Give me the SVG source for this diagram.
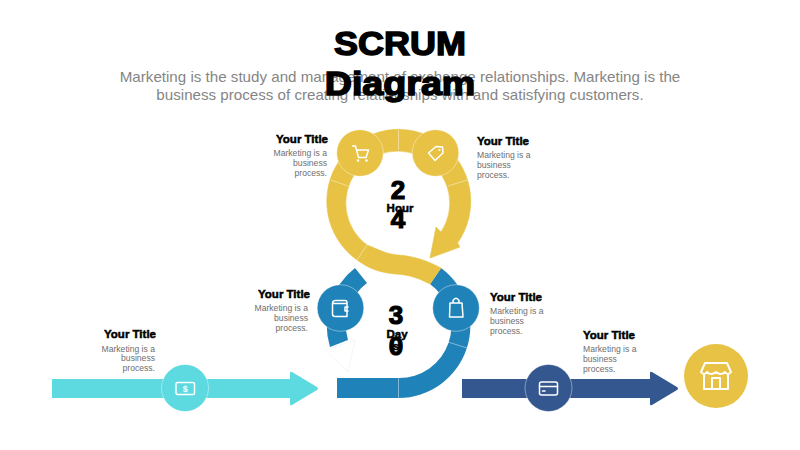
<svg xmlns="http://www.w3.org/2000/svg" width="800" height="450" viewBox="0 0 800 450">
<style>
text{font-family:"Liberation Sans",Arial,sans-serif}
.h{font-size:33px;font-weight:700;fill:#000;stroke:#000;stroke-width:1.5px;text-anchor:middle}
.sub{font-size:15.15px;fill:#858585;text-anchor:middle}
.t{font-size:11.5px;font-weight:700;fill:#000;stroke:#000;stroke-width:.5px}
.b{font-size:8.6px;fill:#6e6e6e}
.e{text-anchor:end}
.n{font-size:26px;font-weight:700;fill:#000;stroke:#000;stroke-width:1.2px;text-anchor:middle}
.u{font-size:11.5px;font-weight:700;fill:#000;stroke:#000;stroke-width:.5px;text-anchor:middle}
.sep{stroke:#fff;stroke-opacity:.55;stroke-width:.8;fill:none}
.c{stroke:#fff;stroke-opacity:.5;stroke-width:.8}
.i{fill:none;stroke:#fff;stroke-width:1.5;stroke-linejoin:round;stroke-linecap:round}
.y{fill:#E8C244}.bl{fill:#1F82B8}
</style>
<g id="heading">
<text class="sub" x="400" y="82">Marketing is the study and management of exchange relationships. Marketing is the</text>
<text class="sub" x="400" y="100">business process of creating relationships with and satisfying customers.</text>
<text class="h" transform="translate(400,55) scale(1.09,1)">SCRUM</text>
<text class="h" transform="translate(400,94.500) scale(1.14,1)">Diagram</text>
</g>
<g id="connectors">
<path class="bl" d="M355,268A72.500,72.500 0 0 0 330,347L348,340A52.500,52.500 0 0 1 367,283Z"/>
<path d="M325,350L355,340L348,372Z" fill="#fff" stroke="#f3f6f7" stroke-width="1" stroke-linejoin="round"/>
<path class="bl" d="M441,268A72,72 0 0 1 398.500,398H337V378H398.500A52,52 0 0 0 430,284Z"/>
<path class="y" d="M357,260A72,72 0 1 1 457.500,243L460,247L430,258L436,227L441,232A52,52 0 1 0 367,245C380,250 386,254 398,255C414,256 428,261 441,268L430,284C418,278 410,275 396,274C380,273 368,268 357,260Z" stroke="#E8C244" stroke-width=".6" stroke-linejoin="round"/>
<path class="sep" d="M398.500,130V150M331,180L348,186M448,186L467,180M367,245L357,260M448,342L467,348M398.500,378V398"/>
<path d="M52,379H290V373Q290,371 292,372L317,387Q319,388.500 317,390L292,405Q290,406 290,404V398H52Z" fill="#5DD9E0"/>
<path d="M462,379H650V373Q650,371 652,372L677,387Q679,388.500 677,390L652,405Q650,406 650,404V398H462Z" fill="#34578F"/>
</g>
<g id="node-cart">
<circle class="y c" cx="360" cy="153" r="23.300"/>
<path class="i" d="M352.500,146H355.500L358.500,157.500H366L368.500,150H356.500"/><circle cx="358" cy="160.500" r="1.200" fill="#fff"/><circle cx="366.500" cy="160.500" r="1.200" fill="#fff"/>
<text class="t e" x="328" y="143">Your Title</text>
<text class="b e" x="327" y="156">Marketing is a</text><text class="b e" x="327" y="166">business</text><text class="b e" x="327" y="176">process.</text>
</g>
<g id="node-tag">
<circle class="y c" cx="435.500" cy="153" r="23.300"/>
<path class="i" d="M428.500,153L436,146.500L442.500,147L443,153L435,160.500Z"/><circle cx="439.500" cy="150" r="1.100" fill="#fff"/>
<text class="t" x="477" y="145">Your Title</text>
<text class="b" x="477" y="158">Marketing is a</text><text class="b" x="477" y="168">business</text><text class="b" x="477" y="178">process.</text>
</g>
<g id="node-wallet">
<circle class="bl c" cx="340.500" cy="308" r="23.300"/>
<path class="i" d="M332.500,303.500Q332.500,300.500 335.500,300.500H345Q347,300.500 347,302.500V316.500H335Q332.500,316.500 332.500,314V303.500H347"/><path class="i" d="M348,307H345V311H348"/>
<text class="t e" x="310" y="298">Your Title</text>
<text class="b e" x="308" y="311">Marketing is a</text><text class="b e" x="308" y="321">business</text><text class="b e" x="308" y="331">process.</text>
</g>
<g id="node-bag">
<circle class="bl c" cx="456" cy="308" r="23.300"/>
<path class="i" d="M450,303H462L463,317H449.500ZM453,303V300.500Q456,296 459,300.500V303"/>
<text class="t" x="490" y="301">Your Title</text>
<text class="b" x="490" y="314">Marketing is a</text><text class="b" x="490" y="324">business</text><text class="b" x="490" y="334">process.</text>
</g>
<g id="node-dollar">
<circle cx="185" cy="388" r="23.500" fill="#5DD9E0" stroke="#fff" stroke-opacity=".5" stroke-width=".8"/>
<rect class="i" x="176" y="382.500" width="18.500" height="12" rx="1.500"/>
<text x="185.300" y="392" font-size="9" font-weight="700" fill="#fff" text-anchor="middle">$</text>
<text class="t e" x="156" y="338">Your Title</text>
<text class="b e" x="155" y="352">Marketing is a</text><text class="b e" x="155" y="361">business</text><text class="b e" x="155" y="371">process.</text>
</g>
<g id="node-card">
<circle cx="548.500" cy="388" r="23.500" fill="#34578F" stroke="#fff" stroke-opacity=".5" stroke-width=".8"/>
<rect class="i" x="539.500" y="382" width="18" height="13" rx="2"/><path class="i" d="M539.500,386.500H557.500M542.500,391H545"/>
<text class="t" x="583" y="339">Your Title</text>
<text class="b" x="583" y="352">Marketing is a</text><text class="b" x="583" y="362">business</text><text class="b" x="583" y="372">process.</text>
</g>
<g id="node-store">
<circle class="y" cx="716" cy="376" r="32"/>
<path class="i" d="M705,363H727L731,372Q728,376 725,372Q721,376 716,372Q711,376 707,372Q704,376 701,372ZM704,375V389H728V375M712,389V378H720V389" style="stroke-width:2"/>
</g>
<g id="hub-hours">
<text class="n" x="398" y="199">2</text>
<text class="n" x="398" y="228">4</text>
<text class="u" x="400" y="212">Hour</text>
</g>
<g id="hub-days">
<text class="n" x="396" y="324">3</text>
<text class="n" x="396" y="355">0</text>
<text class="u" x="397" y="338">Day</text>
<text class="u" x="396" y="350">s</text>
</g>
</svg>
